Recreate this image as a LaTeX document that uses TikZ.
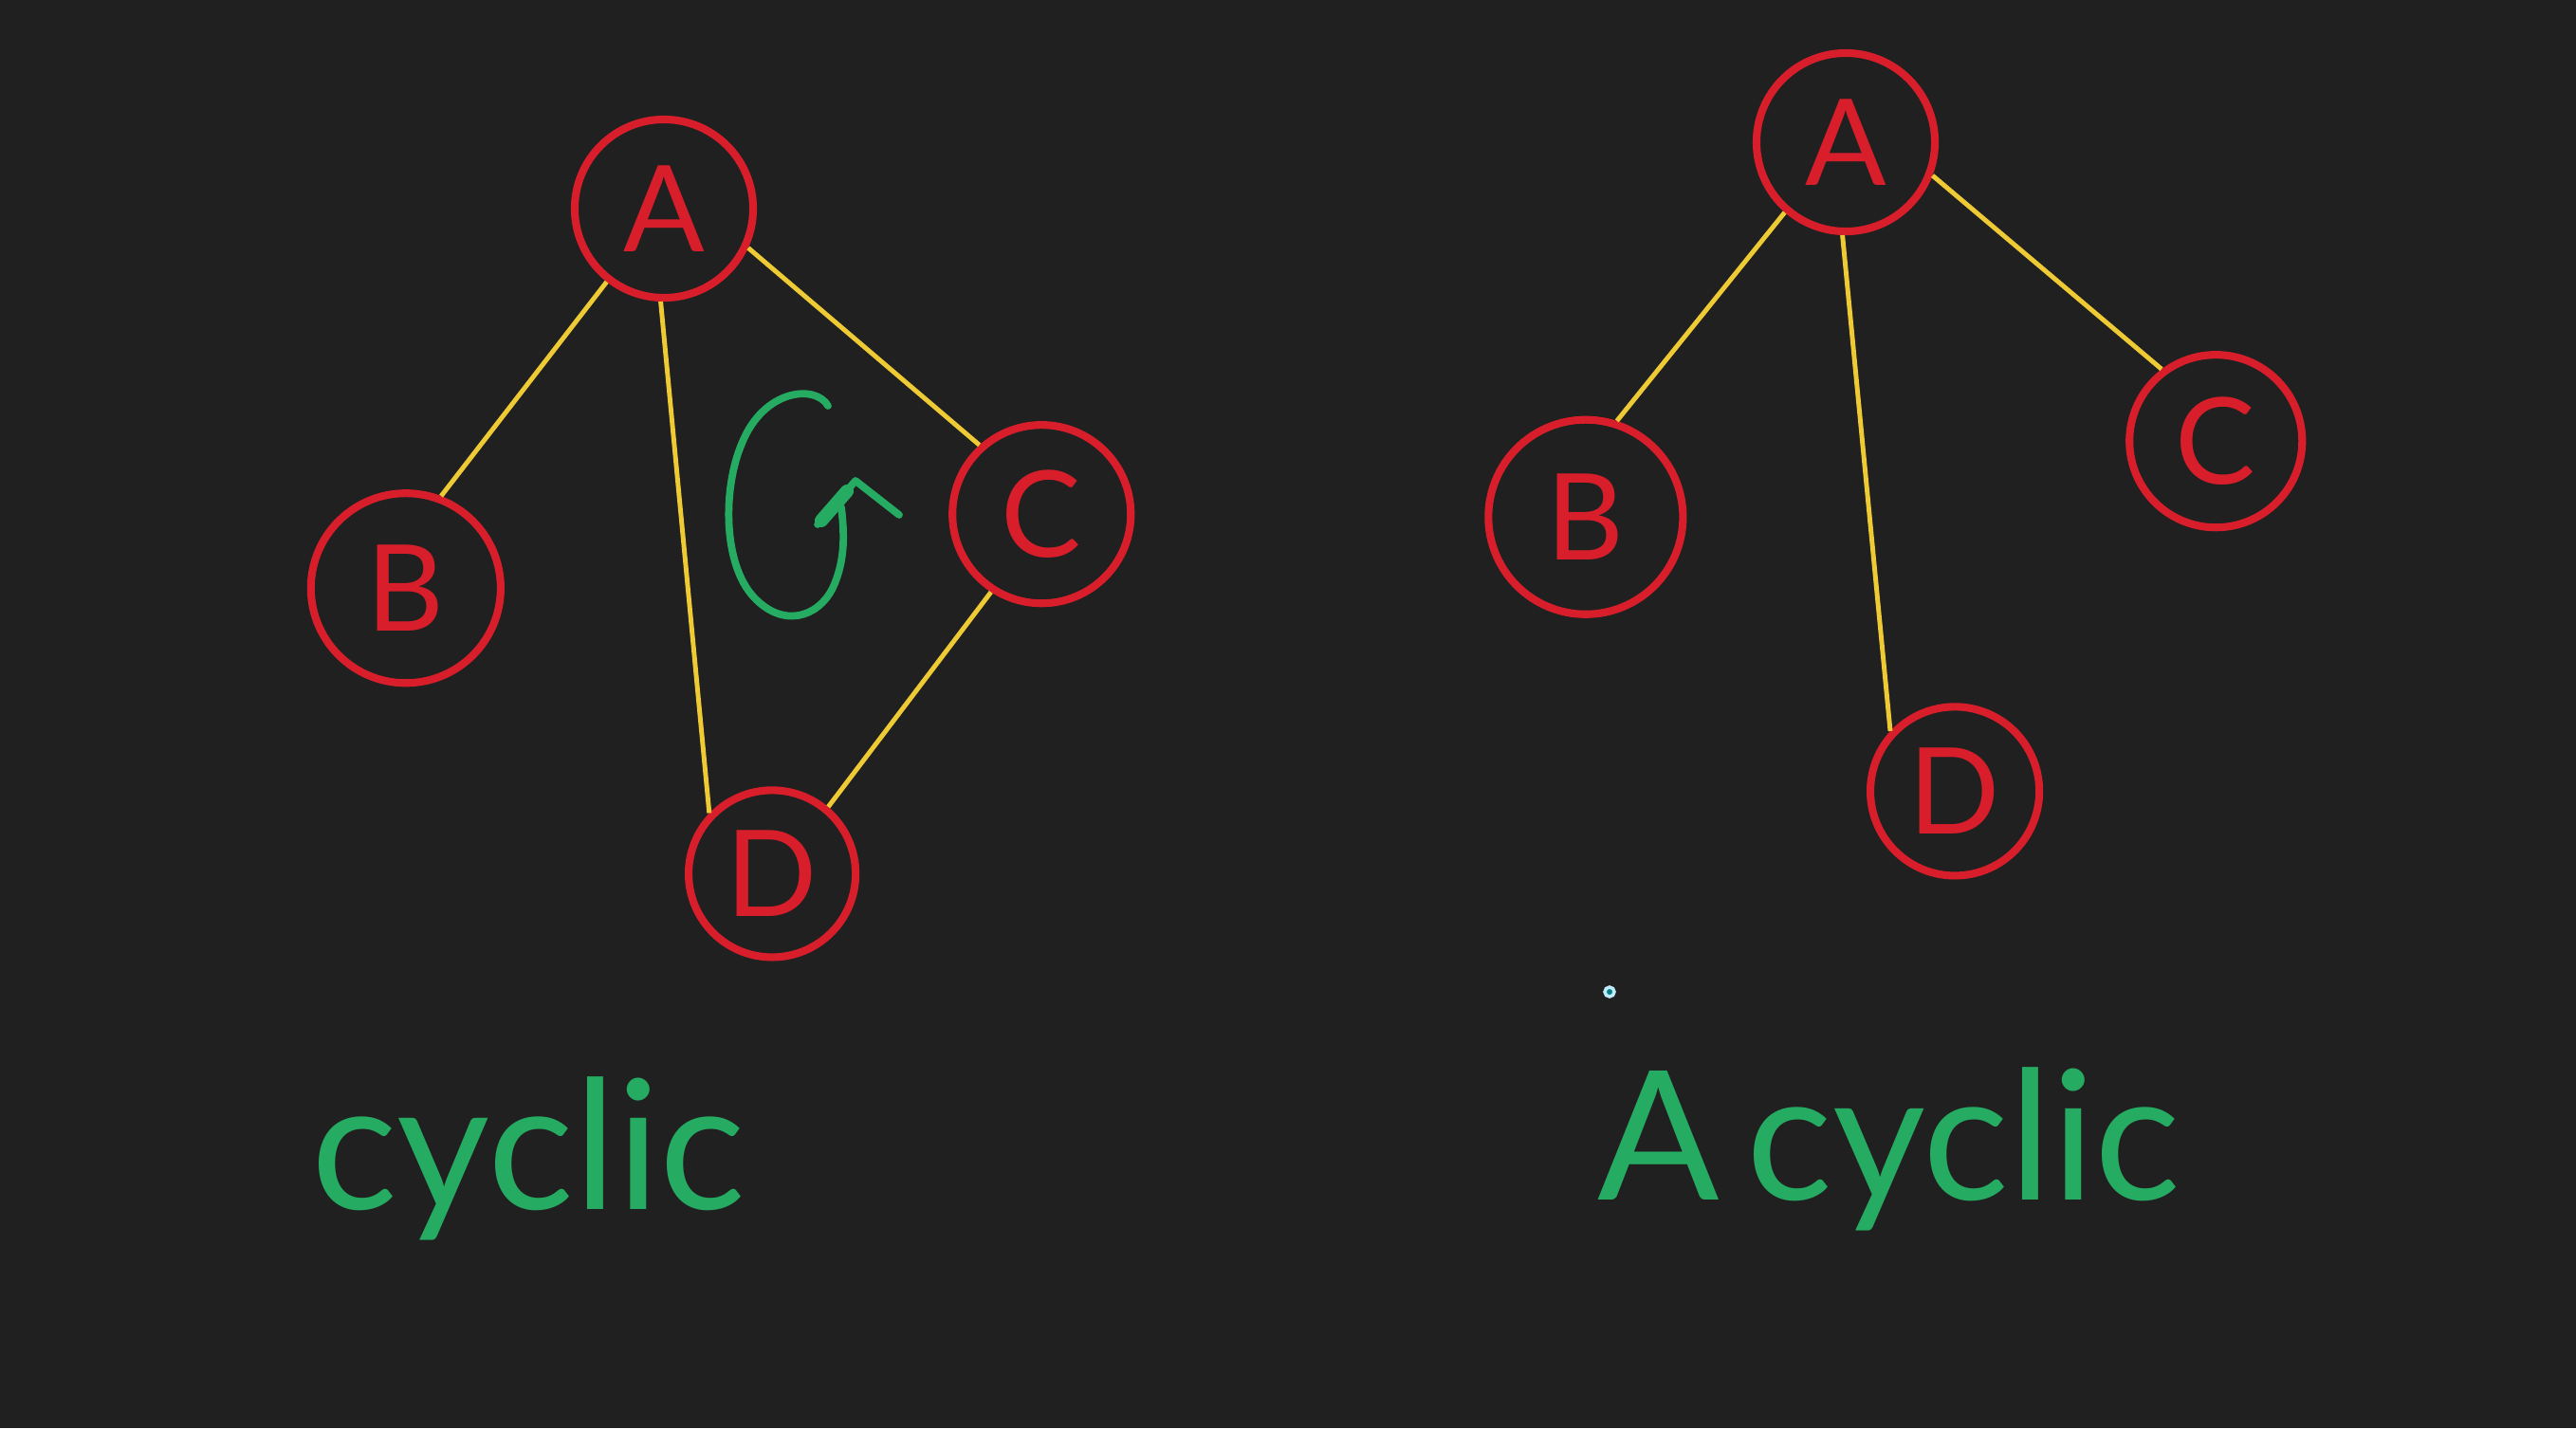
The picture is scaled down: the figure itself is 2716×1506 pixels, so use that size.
\documentclass[tikz,border=0pt]{standalone}
\usepackage{fontspec}
\setmainfont{Lato}
\usetikzlibrary{positioning}

\definecolor{board}{RGB}{32,32,32}
\definecolor{penred}{RGB}{215,30,42}
\definecolor{penyellow}{RGB}{238,202,52}
\definecolor{pengreen}{RGB}{38,172,98}

\tikzset{
    vertex/.style={circle, draw=penred, text=penred, line width=2.3pt,
        minimum size=1.88cm, inner sep=0pt,
        font=\fontsize{36}{40}\selectfont},
    link/.style={draw=penyellow, line width=1.4pt},
    word/.style={text=pengreen, anchor=base, font=\fontsize{54}{60}\selectfont},
    stroke/.style={draw=pengreen, line width=2.2pt, line cap=round, line join=round}
}

\begin{document}
\begin{tikzpicture}[x=0.01cm, y=-0.01cm, on grid]
    \fill[board] (0,0) rectangle (2716,1506);
    \useasboundingbox (0,0) rectangle (2716,1506);

    % cyclic graph
    \node[vertex] (lA) at (700,220) {A};
    \node[vertex, minimum size=2cm] (lB) [below left=4cm and 2.72cm of lA] {B};
    \node[vertex] (lC) [below right=3.22cm and 3.98cm of lA] {C};
    \node[vertex, minimum size=1.76cm] (lD) [below right=7.01cm and 1.14cm of lA] {D};
        \path[link]
        (lA.232)    edge (lB.69)
        (lA.268)    edge (lD.136)
        (lA.335)    edge (lC.132)
        (lC.237)    edge (lD.50);

    % round arrow
    \draw[stroke]
        (873,428) .. controls (860,405) and (805,410) .. (782,468)
                  .. controls (762,515) and (762,595) .. (795,630)
                  .. controls (825,662) and (862,652) .. (878,620)
                  .. controls (892,590) and (890,560) .. (887,535);
    \draw[stroke] (862,553) -- (902,507) -- (948,543);
    \draw[stroke, line width=4pt] (866,549) -- (893,518);

    \node[word] (cyc) at (557,1275) {cyclic};

    % acyclic graph
    \node[vertex] (rA) at (1946,150) {A};
    \node[vertex, minimum size=2.05cm] (rB) [below left=3.95cm and 2.74cm of rA] {B};
    \node[vertex, minimum size=1.82cm] (rC) [below right=3.15cm and 3.9cm of rA] {C};
    \node[vertex, minimum size=1.78cm] (rD) [below right=6.84cm and 1.15cm of rA] {D};
        \path[link]
        (rA.229)    edge (rB.72)
        (rA.268)    edge (rD.137)
        (rA.339)    edge (rC.127);

    \node[word] (acyc) at (1992,1265) {A\kern0.15em cyclic};

    \filldraw[draw=white!75!cyan, fill=teal, line width=1pt] (1697,1046) circle (0.05cm);
\end{tikzpicture}
\end{document}
